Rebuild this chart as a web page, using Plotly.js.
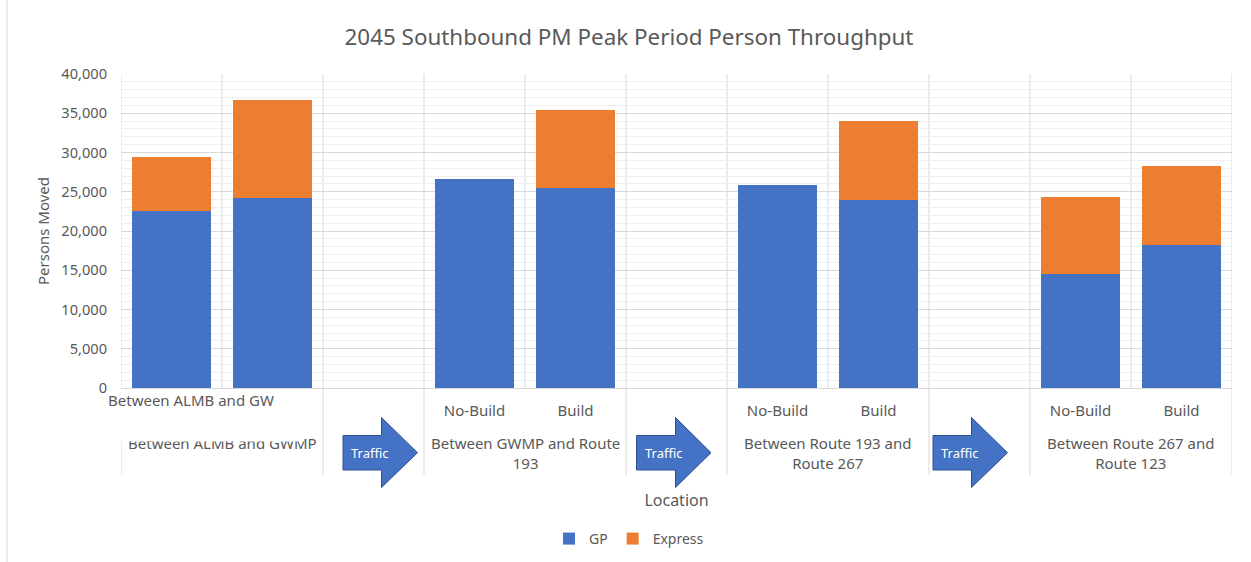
<!DOCTYPE html>
<html>
<head>
<meta charset="utf-8">
<script src="https://cdn.plot.ly/plotly-3.0.1.min.js"></script>
<style>html,body{margin:0;padding:0;background:#fff;}#chart{width:1251px;height:562px;}</style>
</head>
<body>
<div id="chart"></div>
<script>
// ---- data ----
const categories = ['No-Build', 'Build', '', 'No-Build', 'Build', '', 'No-Build', 'Build', '', 'No-Build', 'Build'];
const gpValues = [22600, 24200, null, 26600, 25500, null, 25900, 24000, null, 14500, 18200];
const expressValues = [6800, 12500, null, 0, 9900, null, 0, 10000, null, 9800, 10100];
const groupLabels = ['Between ALMB and GWMP', 'Between GWMP and Route<br>193', 'Between Route 193 and<br>Route 267', 'Between Route 267 and<br>Route 123'];
const groupSlots = [[0, 1], [3, 4], [6, 7], [9, 10]];
const arrowSlots = [2, 5, 8];
const arrowLabel = 'Traffic';
const overlayLabel = 'Between ALMB and GW';
const yTickVals = [0, 5000, 10000, 15000, 20000, 25000, 30000, 35000, 40000];

// ---- layout helpers ----
const FONT = 'Noto Sans, Open Sans, sans-serif';
const GRAY = '#595959';
const L = 121, R = 1232, T = 74, B = 388;
const W = 1251, H = 562;
const px2px = px => (px - L) / (R - L);
const py2py = py => (B - py) / (B - T);
const slotW = (R - L) / categories.length;
const px2x = px => (px - L) / slotW - 0.5;

const xIdx = categories.map((_, i) => i);

const traces = [
  {type: 'bar', name: 'GP', x: xIdx, y: gpValues, marker: {color: '#4472C4'}, hoverinfo: 'y+name'},
  {type: 'bar', name: 'Express', x: xIdx, y: expressValues, marker: {color: '#ED7D31'}, hoverinfo: 'y+name'}
];

const shapes = [];
// chart-area left border
shapes.push({type: 'line', xref: 'paper', yref: 'paper', x0: px2px(7), x1: px2px(7), y0: py2py(0), y1: py2py(H), line: {color: '#D9D9D9', width: 1}});
// vertical category boundaries
const groupBounds = new Set();
groupSlots.forEach(g => { groupBounds.add(g[0] - 0.5); groupBounds.add(g[g.length - 1] + 0.5); });
for (let b = -0.5; b <= categories.length - 0.5; b += 1) {
  const isGroup = groupBounds.has(b);
  shapes.push({type: 'line', layer: 'below', xref: 'x', yref: 'paper', x0: b, x1: b, y0: 1, y1: isGroup ? py2py(475) : 0, line: {color: '#D9D9D9', width: 1}});
}
// traffic arrows
const arrowGeom = [
  {left: 343, head: 381.5, tip: 417.5},
  {left: 636.5, head: 675.5, tip: 711},
  {left: 933, head: 971.5, tip: 1007.5}
];
const annotations = [];
arrowSlots.forEach((s, i) => {
  const g = arrowGeom[i];
  const xl = px2x(g.left), xh = px2x(g.head), xt = px2x(g.tip);
  const bt = py2py(435.5), bb = py2py(470), ht = py2py(417.5), hb = py2py(487.5), ty = py2py(452.7);
  shapes.push({
    type: 'path', xref: 'x', yref: 'paper',
    path: `M ${xl} ${bt} L ${xh} ${bt} L ${xh} ${ht} L ${xt} ${ty} L ${xh} ${hb} L ${xh} ${bb} L ${xl} ${bb} Z`,
    fillcolor: '#4472C4', line: {color: '#2F528F', width: 1}
  });
  annotations.push({xref: 'x', yref: 'paper', x: px2x(g.left + 27), y: py2py(453), text: arrowLabel, showarrow: false,
    font: {family: FONT, size: 13, color: '#FFFFFF'}, xanchor: 'center', yanchor: 'middle'});
});
// group labels
groupLabels.forEach((lab, i) => {
  const sl = groupSlots[i];
  const c = (sl[0] + sl[sl.length - 1]) / 2;
  const twoLine = lab.indexOf('<br>') >= 0;
  annotations.push({xref: 'x', yref: 'paper', x: c, y: twoLine ? py2py(453) : py2py(443), text: lab, showarrow: false,
    font: {family: FONT, size: 15, color: GRAY}, xanchor: 'center', yanchor: 'middle'});
});
// white overlay box
annotations.push({xref: 'paper', yref: 'paper', x: px2px(107), y: py2py(389), xanchor: 'left', yanchor: 'top',
  text: overlayLabel, showarrow: false, width: 196, height: 50.5, align: 'left', valign: 'top',
  bgcolor: '#FFFFFF', borderpad: 0, font: {family: FONT, size: 15, color: GRAY}});

const layout = {
  width: W, height: H,
  margin: {l: L, r: W - R, t: T, b: H - B, pad: 0, autoexpand: false},
  paper_bgcolor: '#FFFFFF', plot_bgcolor: '#FFFFFF',
  font: {family: FONT, color: GRAY, size: 15},
  barmode: 'stack', bargap: 0.21,
  title: {text: '2045 Southbound PM Peak Period Person Throughput', x: 629 / W, xref: 'container', xanchor: 'center',
    y: 1 - 37 / H, yref: 'container', yanchor: 'middle', font: {family: FONT, size: 22.4, color: GRAY}},
  xaxis: {
    range: [-0.5, categories.length - 0.5], tickmode: 'array', tickvals: xIdx, ticktext: categories,
    showgrid: false, zeroline: false, showline: true, linecolor: '#D9D9D9', linewidth: 1,
    ticks: '', ticklabelstandoff: 9, tickfont: {family: FONT, size: 15, color: GRAY},
    title: {text: 'Location', standoff: 75, font: {family: FONT, size: 16, color: GRAY}},
    automargin: false, fixedrange: true
  },
  yaxis: {
    range: [0, 40000], tickmode: 'array', tickvals: yTickVals, tickformat: ',d',
    showgrid: true, gridcolor: '#D9D9D9', gridwidth: 1, zeroline: false, showline: false,
    minor: {dtick: 1000, showgrid: true, gridcolor: '#EFEFEF', gridwidth: 1},
    ticks: '', ticklabelstandoff: 13, tickfont: {family: FONT, size: 14.6, color: GRAY},
    title: {text: 'Persons Moved', standoff: 8, font: {family: FONT, size: 15, color: GRAY}},
    automargin: false, fixedrange: true
  },
  legend: {orientation: 'h', x: px2px(629), xanchor: 'center', y: py2py(539), yanchor: 'middle',
    font: {family: FONT, size: 14, color: GRAY}, traceorder: 'normal', itemclick: false},
  shapes: shapes,
  annotations: annotations,
  showlegend: true
};

Plotly.newPlot('chart', traces, layout, {displayModeBar: false, staticPlot: false});
</script>
</body>
</html>
